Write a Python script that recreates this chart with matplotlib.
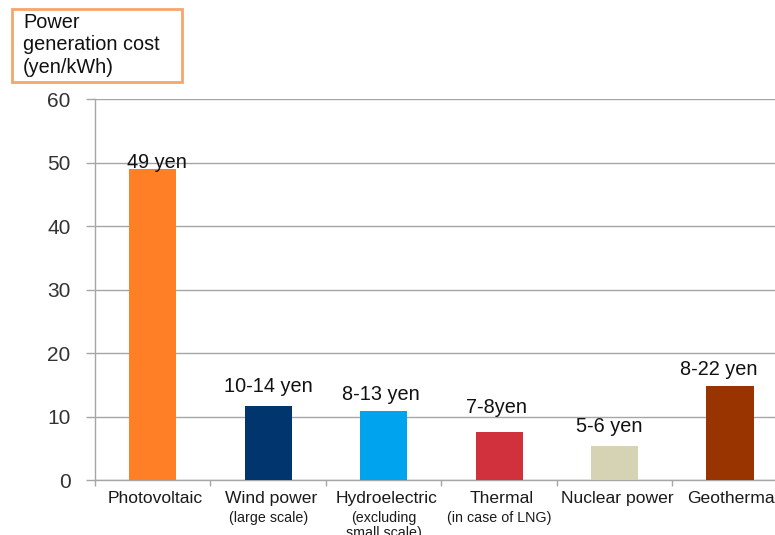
import matplotlib.pyplot as plt
from matplotlib.patches import FancyBboxPatch

plt.rcParams["font.family"] = ["Liberation Sans", "DejaVu Sans"]

# generation cost per source (yen/kWh)
sources = ["Photovoltaic", "Wind power", "Hydroelectric", "Thermal", "Nuclear power", "Geothermal"]
notes = ["", "(large scale)", "(excluding\nsmall scale)", "(in case of LNG)", "", ""]
costs = [49, 11.7, 10.9, 7.5, 5.4, 14.8]
cost_labels = ["49 yen", "10-14 yen", "8-13 yen", "7-8yen", "5-6 yen", "8-22 yen"]
colors = ["#FF7F27", "#00356E", "#00A3EE", "#D1313D", "#D6D2B4", "#993300"]

# vertical gap (points) between bar top and its value label, and small x nudges
label_gap = [-2, 7, 5, 11, 7, 5]
label_dx = [3, 0, -2, -2, -4, -8]

fig = plt.figure(figsize=(7.75, 5.35), dpi=100)
ax = fig.add_axes([0.1226, 0.1028, 0.894, 0.712])

x = list(range(len(sources)))
ax.bar(x, costs, width=0.41, color=colors, zorder=3)

for xi, c, lab, g, dx in zip(x, costs, cost_labels, label_gap, label_dx):
    ax.annotate(lab, (xi, c), xytext=(dx, g), textcoords="offset points",
                ha="center", va="bottom", fontsize=14.3, color="#111111", zorder=4)

ax.set_xlim(-0.5, 5.5)
ax.set_ylim(0, 60)
ax.set_yticks(range(0, 61, 10))
ax.yaxis.grid(True, color="#A6A6A6", linewidth=1.0, zorder=0)
ax.tick_params(axis="y", length=6.5, width=1.0, color="#A6A6A6", pad=11,
               labelsize=15, labelcolor="#333333")

# category ticks sit between bars; names are drawn as text below
ax.set_xticks([i - 0.5 for i in range(len(sources) + 1)])
ax.set_xticklabels([])
ax.tick_params(axis="x", length=4, width=1.0, color="#A6A6A6")

for xi, name, note in zip(x, sources, notes):
    ax.annotate(name, (xi, 0), xycoords=("data", "axes fraction"),
                xytext=(2, -8), textcoords="offset points",
                ha="center", va="top", fontsize=12.6, color="#1a1a1a")
    if note:
        ax.annotate(note, (xi, 0), xycoords=("data", "axes fraction"),
                    xytext=(0, -22.5), textcoords="offset points",
                    ha="center", va="top", fontsize=10.3, color="#1a1a1a",
                    linespacing=1.1)

for side in ["top", "right"]:
    ax.spines[side].set_visible(False)
for side in ["left", "bottom"]:
    ax.spines[side].set_color("#A6A6A6")
    ax.spines[side].set_linewidth(1.0)

# unit caption box in the top-left corner
box = FancyBboxPatch((12 / 775, 1 - 82 / 535), 170 / 775, 73 / 535,
                     boxstyle="square,pad=0", transform=fig.transFigure,
                     facecolor="white", edgecolor="#F8A56C", linewidth=2)
fig.patches.append(box)
fig.text(23 / 775, 1 - 13 / 535, "Power\ngeneration cost\n(yen/kWh)",
         ha="left", va="top", fontsize=14.3, color="#111111", linespacing=1.22)

fig.savefig("out.png", dpi=100)
